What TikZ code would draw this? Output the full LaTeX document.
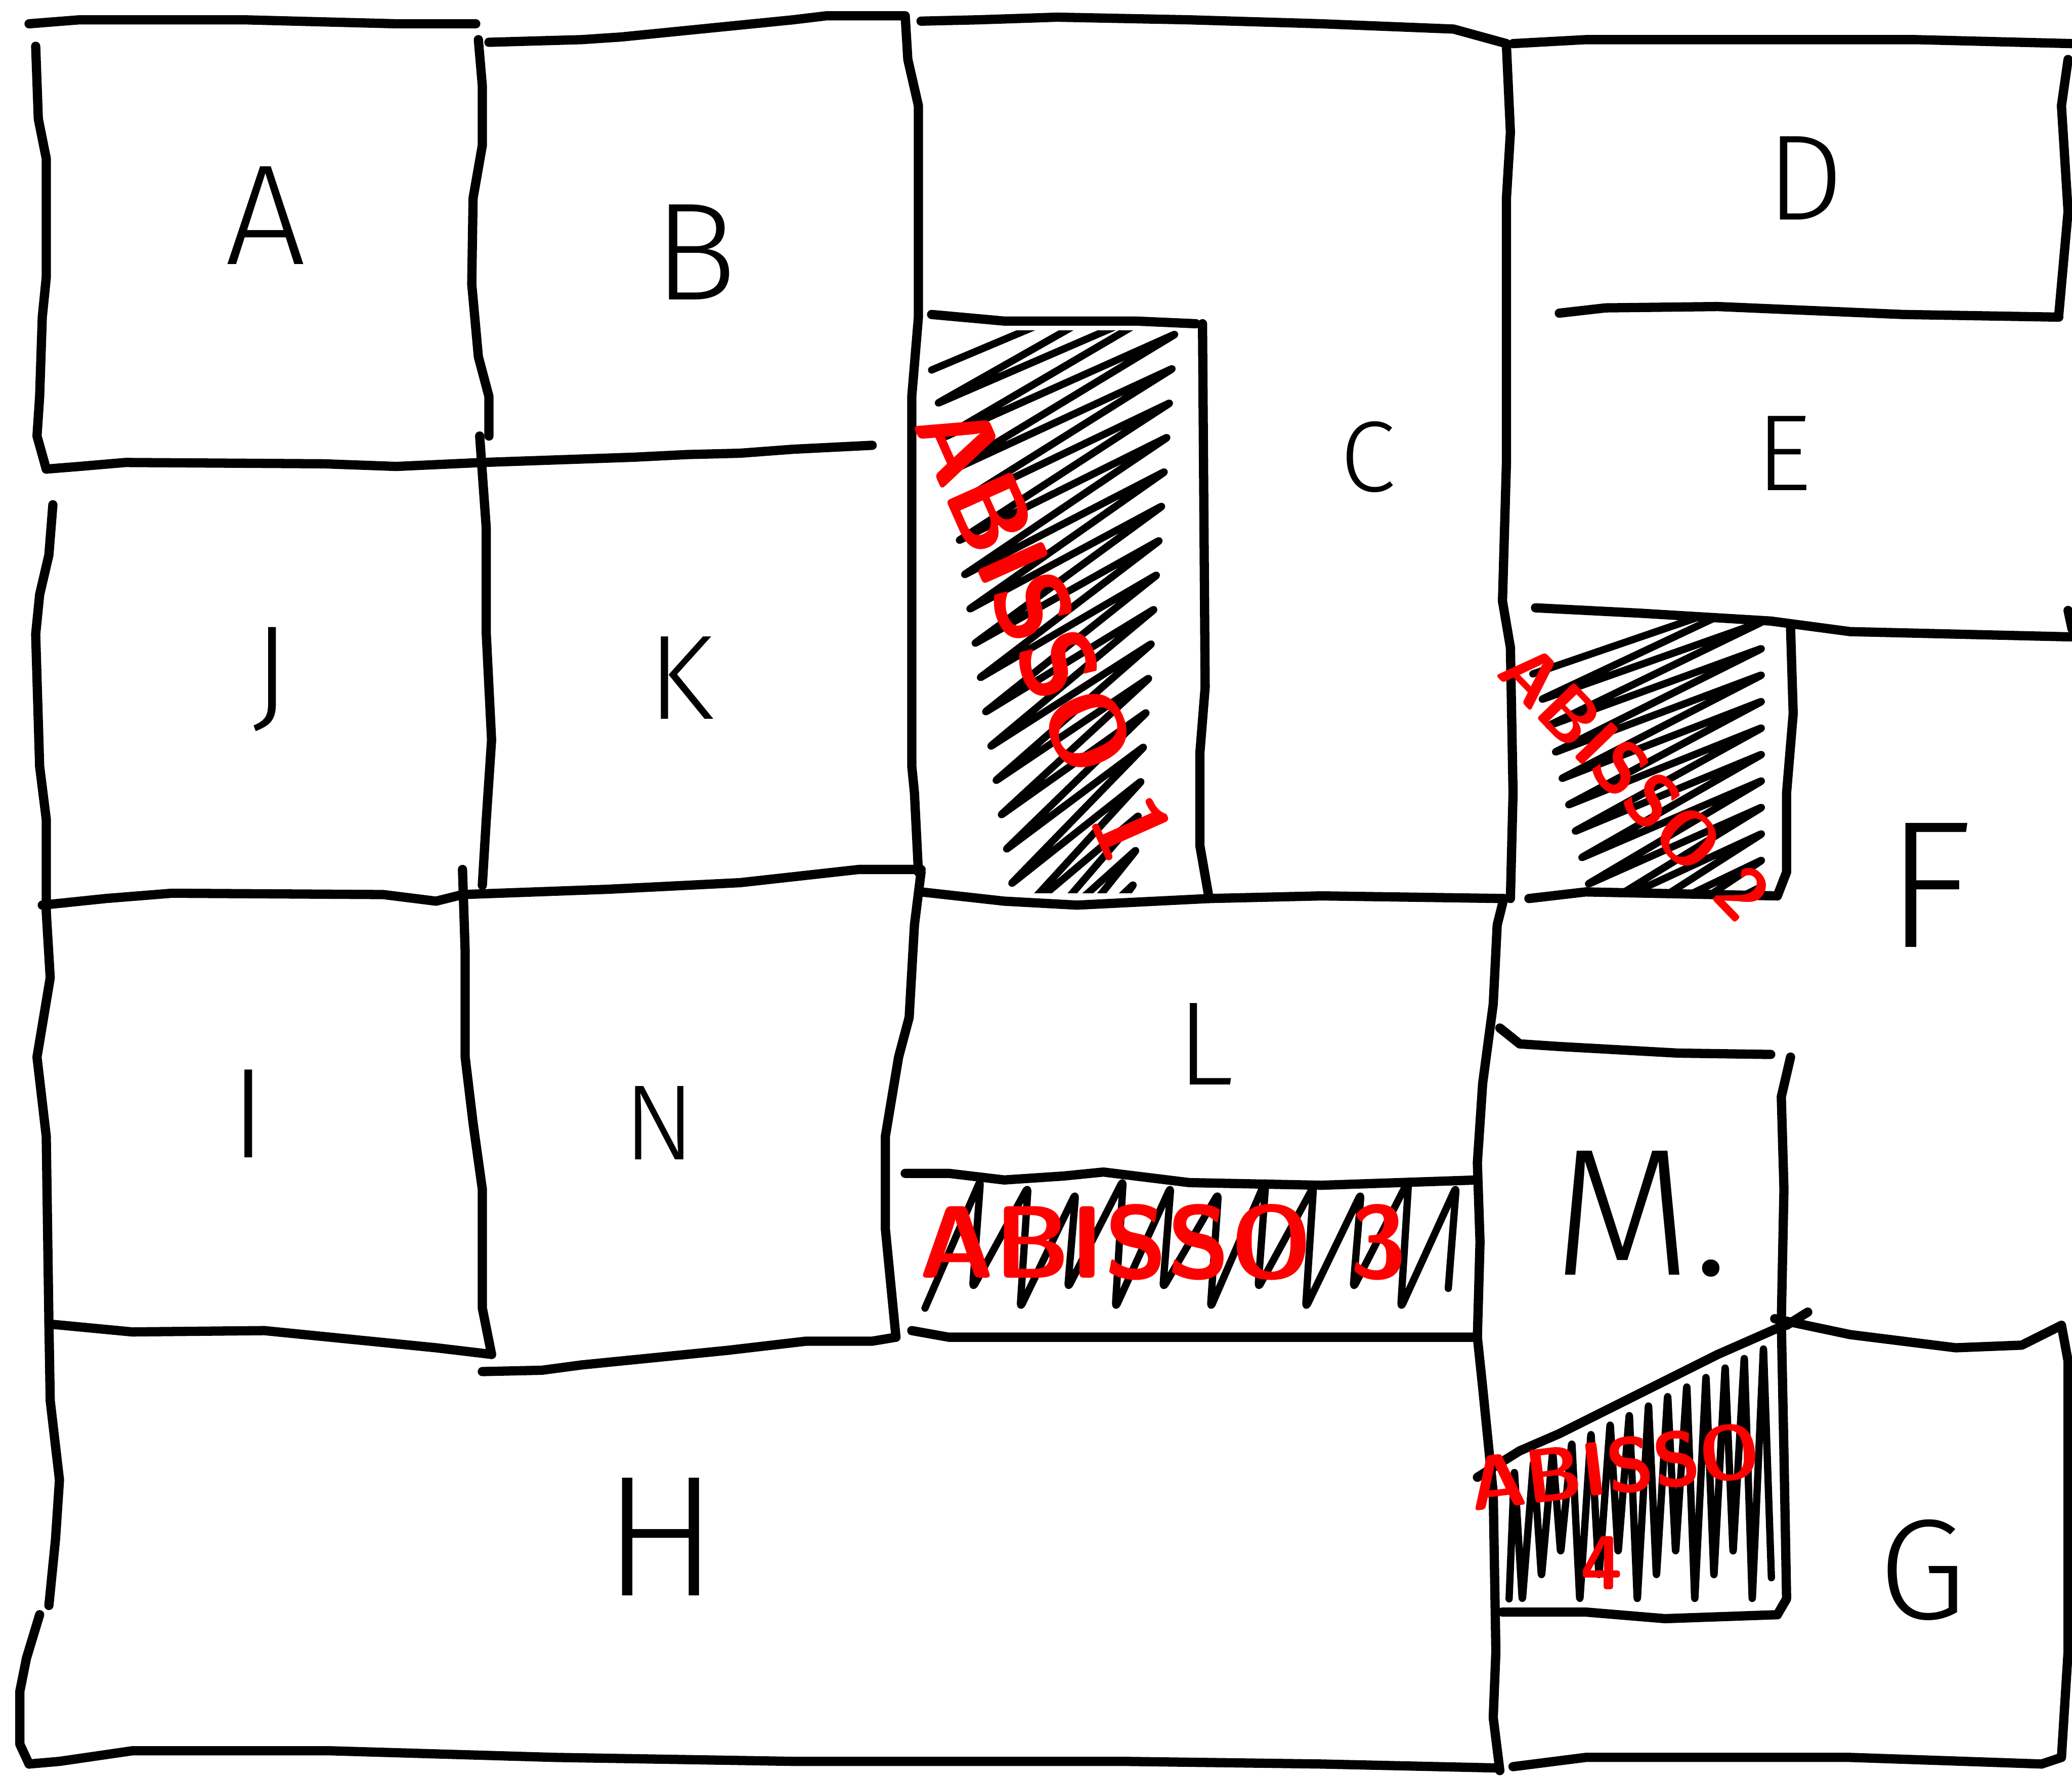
\documentclass[tikz,border=0pt]{standalone}
\usepackage{fontspec}
\newfontfamily\thinfont{Fira Sans Light}
\newcommand\myfs[1]{\fontsize{#1}{#1}\selectfont}
\begin{document}
\begin{tikzpicture}[x=1pt,y=-1pt,line cap=round,line join=round,
  wall/.style={line width=7pt,black},
  hatch/.style={line width=5.5pt,black,rounded corners=4pt},
  lbl/.style={inner sep=0pt},
  abisso/.style={inner sep=0pt,text=red}]
\fill[white] (0,0) rectangle (1568,1347);
\useasboundingbox (0,0) rectangle (1568,1347);

% ---- hatching ----
\begin{scope}
\clip (692,250) rectangle (908,676);
\draw[hatch] (705,280) \foreach \i in {0,...,18} { -- ({895-2*\i},{200+26*\i}) -- ({708+4*\i},{306+26*\i}) };
\end{scope}
\begin{scope}
\clip (1148,466) rectangle (1350,676);
\draw[hatch] (1160,510) \foreach \i in {0,...,12} { -- (1335,{450+20*\i}) -- ({1165+5*\i},{530+20*\i}) };
\end{scope}
\draw[hatch] (700,990) \foreach \i in {0,...,10} { -- ({742+36*\i},{893+5*mod(\i,3)}) -- ({736+36*\i},{975+15*mod(\i,2)}) };
\draw[hatch] (1142,1210) \foreach \i in {0,...,13} { -- ({1146+14.5*\i},{1126-0.496*(28+14.5*\i)}) -- ({1152+14.5*\i},{1212-18*mod(\i,3)}) };

% ---- walls ----
\draw[wall] (22,18) -- (60,15) -- (185,15) -- (300,18) -- (360,18);
\draw[wall] (370,32) -- (440,30) -- (470,28) -- (600,15) -- (625,12) -- (685,12);
\draw[wall] (697,16) -- (740,15) -- (800,13) -- (900,15) -- (1000,18) -- (1100,22) -- (1140,33);
\draw[wall] (1145,33) -- (1200,30) -- (1300,30) -- (1450,30) -- (1568,33);
\draw[wall] (27,35) -- (29,90) -- (35,120) -- (35,210) -- (32,240) -- (30,300) -- (28,330) -- (35,355);
\draw[wall] (35,355) -- (60,353) -- (95,350) -- (245,351) -- (300,353) -- (365,350) -- (480,346) -- (520,344) -- (560,343) -- (600,340) -- (660,337);
\draw[wall] (362,30) -- (365,65) -- (365,110) -- (358,150) -- (357,215) -- (362,270) -- (370,300) -- (370,330);
\draw[wall] (363,330) -- (368,400) -- (368,480) -- (372,560) -- (368,620) -- (365,670);
\draw[wall] (685,12) -- (687,45) -- (695,80) -- (695,240) -- (690,300) -- (690,580) -- (692,600) -- (695,660);
\draw[wall] (697,660) -- (692,700) -- (688,770) -- (680,800) -- (670,860) -- (670,930) -- (678,1012);
\draw[wall] (40,382) -- (37,420) -- (30,450) -- (27,480) -- (30,580) -- (35,620) -- (35,690);
\draw[wall] (32,685) -- (80,680) -- (130,676) -- (290,677) -- (330,682) -- (350,677) -- (460,673) -- (560,668) -- (650,658) -- (697,658);
\draw[wall] (350,658) -- (352,720) -- (352,800) -- (358,850) -- (365,900) -- (365,990) -- (372,1025);
\draw[wall] (35,690) -- (38,740) -- (28,800) -- (35,860) -- (37,1000);
\draw[wall] (37,1002) -- (100,1008) -- (200,1007) -- (280,1015) -- (330,1020) -- (372,1025);
\draw[wall] (365,1038) -- (410,1037) -- (440,1033) -- (550,1022) -- (610,1015) -- (660,1015) -- (678,1012);
\draw[wall] (37,1000) -- (38,1060) -- (45,1120) -- (42,1165) -- (37,1215);
\draw[wall] (30,1222) -- (20,1255) -- (15,1280) -- (15,1320) -- (22,1335);
\draw[wall] (22,1335) -- (45,1333) -- (100,1325) -- (250,1325) -- (420,1330) -- (600,1333) -- (850,1333) -- (1000,1335) -- (1133,1338);
\draw[wall] (1118,1012) -- (1122,1050) -- (1130,1130) -- (1132,1250) -- (1130,1300) -- (1135,1340);
\draw[wall] (1138,680) -- (1133,700) -- (1130,760) -- (1122,820) -- (1118,880) -- (1120,940) -- (1118,1012);
\draw[wall] (697,675) -- (760,682) -- (815,685) -- (915,680) -- (1000,678) -- (1138,680);
\draw[wall] (705,238) -- (760,243) -- (860,243) -- (905,245);
\draw[wall] (910,245) -- (912,520) -- (908,570) -- (908,640) -- (915,680);
\draw[wall] (685,888) -- (718,888) -- (760,893) -- (805,890) -- (835,887) -- (900,895) -- (1000,897) -- (1118,893);
\draw[wall] (690,1007) -- (718,1012) -- (1000,1012) -- (1118,1012);
\draw[wall] (1140,35) -- (1143,100) -- (1140,150) -- (1140,350) -- (1137,455) -- (1143,490) -- (1145,600) -- (1143,680);
\draw[wall] (1565,45) -- (1560,80) -- (1565,160) -- (1558,238);
\draw[wall] (1180,237) -- (1215,233) -- (1300,232) -- (1440,238) -- (1558,240);
\draw[wall] (1162,460) -- (1240,464) -- (1340,470) -- (1400,478) -- (1568,482);
\draw[wall] (1565,462) -- (1568,476);
\draw[wall] (1355,475) -- (1357,540) -- (1352,600) -- (1352,660) -- (1345,678);
\draw[wall] (1157,680) -- (1200,675) -- (1345,678);
\draw[wall] (1135,778) -- (1150,790) -- (1180,792) -- (1270,797) -- (1340,798);
\draw[wall] (1355,800) -- (1348,830) -- (1350,900) -- (1348,1000) -- (1350,1100) -- (1352,1210) -- (1345,1222);
\draw[wall] (1343,998) -- (1400,1010) -- (1480,1020) -- (1530,1018) -- (1560,1003);
\draw[wall] (1352,1003) -- (1368,993);
\draw[wall] (1560,1003) -- (1565,1030) -- (1565,1250) -- (1560,1330) -- (1545,1335);
\draw[wall] (1145,1337) -- (1200,1330) -- (1400,1330) -- (1545,1335);
\draw[wall] (1118,1118) -- (1150,1098) -- (1180,1085) -- (1250,1050) -- (1300,1025) -- (1350,1003);
\draw[wall] (1137,1220) -- (1200,1220) -- (1260,1225) -- (1345,1222);

% ---- room letters ----
\node[lbl,font=\thinfont\myfs{108}] (A) at (201,163) {A};
\node[lbl,font=\thinfont\myfs{105}] (B) at (526,191) {B};
\node[lbl,font=\thinfont\myfs{76}] (C) at (1035,346) {C};
\node[lbl,font=\thinfont\myfs{92}] (D) at (1366,135) {D};
\node[lbl,font=\thinfont\myfs{82}] (E) at (1350,343) {E};
\node[lbl,font=\thinfont\myfs{137}] (F) at (1460,670) {F};
\node[lbl,font=\thinfont\myfs{108}] (G) at (1455,1188) {G};
\node[lbl,font=\thinfont\myfs{130}] (H) at (500,1163) {H};
\node[lbl,font=\thinfont\myfs{97}] (I) at (188,843) {I};
\node[lbl,font=\thinfont\myfs{98}] (J) at (205,514) {J};
\node[lbl,font=\thinfont\myfs{91}] (K) at (515,513) {K};
\node[lbl,font=\thinfont\myfs{90}] (L) at (912,790) {L};
\node[lbl,font=\thinfont\myfs{137},anchor=base west] (M) at (1175,965) {M.};
\node[lbl,font=\thinfont\myfs{81}] (N) at (499,850) {N};

% ---- red labels ----
\node[abisso,font=\sffamily\bfseries\myfs{78},rotate=-66] (ab1) at (790,478) {ABISSO 1};
\node[abisso,font=\sffamily\bfseries\myfs{56},rotate=-46] (ab2) at (1237,592) {ABISSO 2};
\node[abisso,font=\sffamily\bfseries\myfs{78}] (ab3) at (880,940) {ABISSO 3};
\node[abisso,font=\sffamily\bfseries\myfs{58},rotate=7] (ab4) at (1222,1110) {ABISSO};
\node[abisso,font=\sffamily\bfseries\myfs{58}] (ab4n) at (1212,1183) {4};
\end{tikzpicture}
\end{document}
